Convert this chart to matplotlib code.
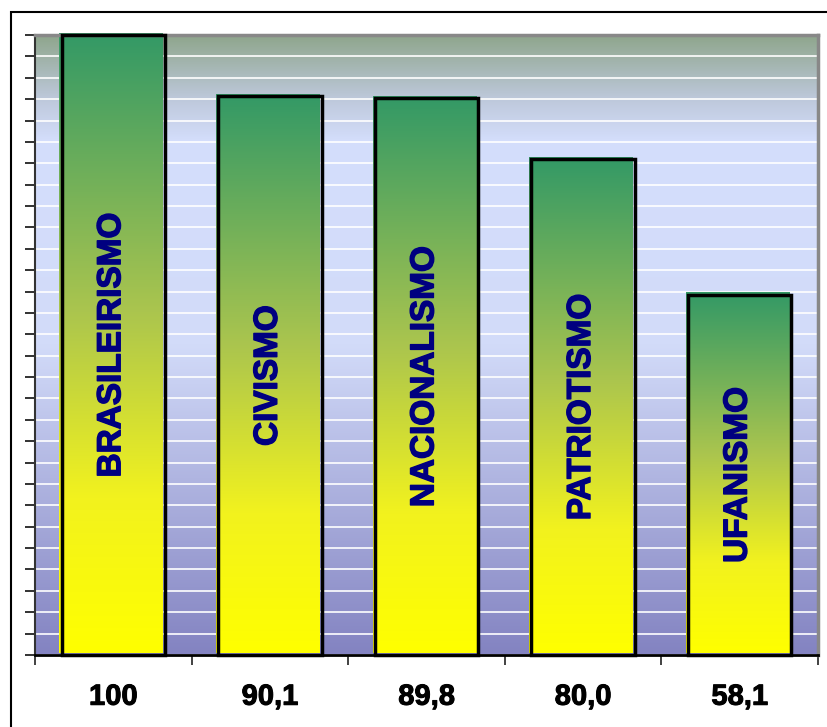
import numpy as np
import matplotlib.pyplot as plt
import matplotlib.patheffects as pe
from matplotlib.colors import LinearSegmentedColormap
from matplotlib.transforms import offset_copy
from matplotlib.patches import Rectangle

# data
categories = ['BRASILEIRISMO', 'CIVISMO', 'NACIONALISMO', 'PATRIOTISMO', 'UFANISMO']
values = [100, 90.1, 89.8, 80.0, 58.1]
tick_labels = ['100', '90,1', '89,8', '80,0', '58,1']

plt.rcParams['font.family'] = ['Liberation Sans', 'DejaVu Sans']

fig = plt.figure(figsize=(8.28, 7.27), dpi=100)
ax = fig.add_axes([35/828, 1 - 655/727, 783/828, 620/727])

x = np.arange(len(categories))
grad = np.linspace(0, 1, 256).reshape(-1, 1)

# plot area background gradient
bg = LinearSegmentedColormap.from_list('bg', [
    (0, '#8fa68d'), (0.1, '#bdc8da'), (0.17, '#d4defc'),
    (0.5, '#d2dbf9'), (1, '#8383c1')])
ax.imshow(grad, cmap=bg, aspect='auto', extent=(-0.5, 4.5, 0, 100),
          origin='upper', zorder=0)

# bar fills, shifted a bit up/left of the black frame
up = offset_copy(ax.transData, fig=fig, x=-2.3, y=2.5, units='dots')
bars = ax.bar(x, values, width=0.66, color='none', edgecolor='none',
              transform=up, zorder=2)
barcm = LinearSegmentedColormap.from_list('bar', [
    (0, '#339966'), (0.45, '#abc54e'), (0.75, '#f2f21e'), (1, '#ffff00')])
for b in bars:
    im = ax.imshow(grad, cmap=barcm, aspect='auto',
                   extent=(b.get_x(), b.get_x() + b.get_width(), 0, b.get_height()),
                   origin='upper', zorder=2)
    im.set_transform(up)
    im.set_clip_on(False)
    im.set_clip_path(b)

# black frame
ax.bar(x, values, width=0.66, color='none', edgecolor='black',
       linewidth=2.5, zorder=3, clip_on=False)

for xi, v, cat in zip(x, values, categories):
    ax.text(xi - 0.01, v / 2, cat, rotation=90, ha='center', va='center',
            color='#000080', fontsize=24, fontweight='bold', zorder=4,
            path_effects=[pe.withStroke(linewidth=1.0, foreground='#000080')])

ax.set_xlim(-0.5, 4.5)
ax.set_ylim(0, 100)

ax.set_yticks(np.linspace(0, 100, 30))
ax.set_yticklabels([])
ax.tick_params(axis='y', length=7, width=1.3, color='#222222')
ax.yaxis.grid(True, color='white', linewidth=1.2)
ax.set_axisbelow(True)

ax.set_xticks(x)
ax.set_xticklabels(tick_labels, fontsize=21, fontweight='bold')
for t in ax.get_xticklabels():
    t.set_path_effects([pe.withStroke(linewidth=0.7, foreground='black')])
ax.set_xticks(np.arange(-0.5, 5, 1), minor=True)
ax.tick_params(axis='x', which='major', length=0, pad=20)
ax.tick_params(axis='x', which='minor', length=7, width=1.3, color='#333333')

ax.spines['left'].set_color('#333333')
ax.spines['left'].set_linewidth(1.5)
ax.spines['bottom'].set_color('black')
ax.spines['bottom'].set_linewidth(2)
ax.spines['bottom'].set_zorder(5)
for s in ['top', 'right']:
    ax.spines[s].set_color('#888888')
    ax.spines[s].set_linewidth(2.5)

# outer chart frame
fig.add_artist(Rectangle((11/828, -0.1), 1.2, 1 - 12/727 + 0.1,
                         transform=fig.transFigure, fill=False,
                         edgecolor='black', linewidth=1.5))

fig.savefig('out.png', dpi=100)
